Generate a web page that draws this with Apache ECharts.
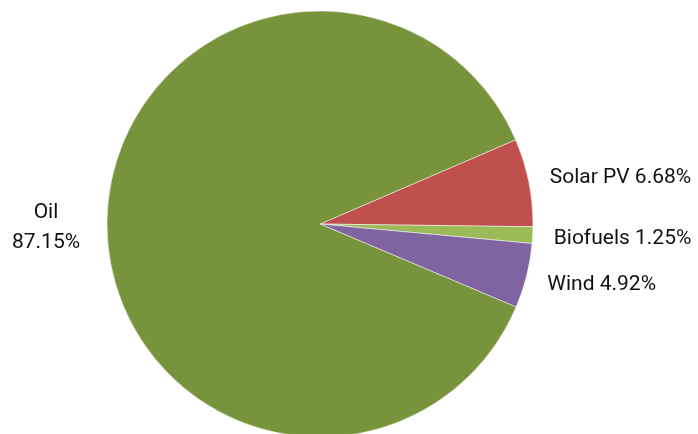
<!DOCTYPE html>
<html>
<head>
<meta charset="utf-8">
<script src="https://cdn.jsdelivr.net/npm/echarts@6/dist/echarts.min.js"></script>
<style>
  html, body { margin: 0; padding: 0; background: #fff; }
  #chart { width: 698px; height: 434px; }
</style>
</head>
<body>
<div id="chart"></div>
<script>
const sources = ['Solar PV', 'Biofuels', 'Wind', 'Oil']
const shares = [6.68, 1.25, 4.92, 87.15]
const colors = ['#C0504D', '#9BBB59', '#8064A2', '#77933C']
// small vertical nudges so the labels sit where the original placed them
const labelShift = [-3, 3, 7, 3]

const chart = echarts.init(document.getElementById('chart'))

const data = sources.map((name, i) => {
  const item = { name, value: shares[i], itemStyle: { color: colors[i] } }
  if (name === 'Oil') {
    // two-line label, centred
    item.label = {
      formatter: (p) => `{c|${p.name}}\n{c|${p.value.toFixed(2)}%}`,
      rich: { c: { width: 80, align: 'center', fontSize: 21, lineHeight: 30, fontFamily: 'Roboto', color: '#111' } }
    }
  }
  return item
})

chart.setOption({
  animation: false,
  series: [{
    type: 'pie',
    center: [320, 224],
    radius: 213,
    startAngle: 23.3,
    clockwise: true,
    avoidLabelOverlap: false,
    itemStyle: { borderColor: '#fff', borderWidth: 0.5 },
    label: {
      show: true,
      position: 'outside',
      formatter: (p) => `${p.name} ${p.value.toFixed(2)}%`,
      fontFamily: 'Roboto',
      fontSize: 21,
      color: '#111'
    },
    labelLine: { show: false, length: 8, length2: 8 },
    labelLayout: (params) => ({ dy: labelShift[params.dataIndex] }),
    emphasis: { disabled: true },
    data
  }]
})
</script>
</body>
</html>
